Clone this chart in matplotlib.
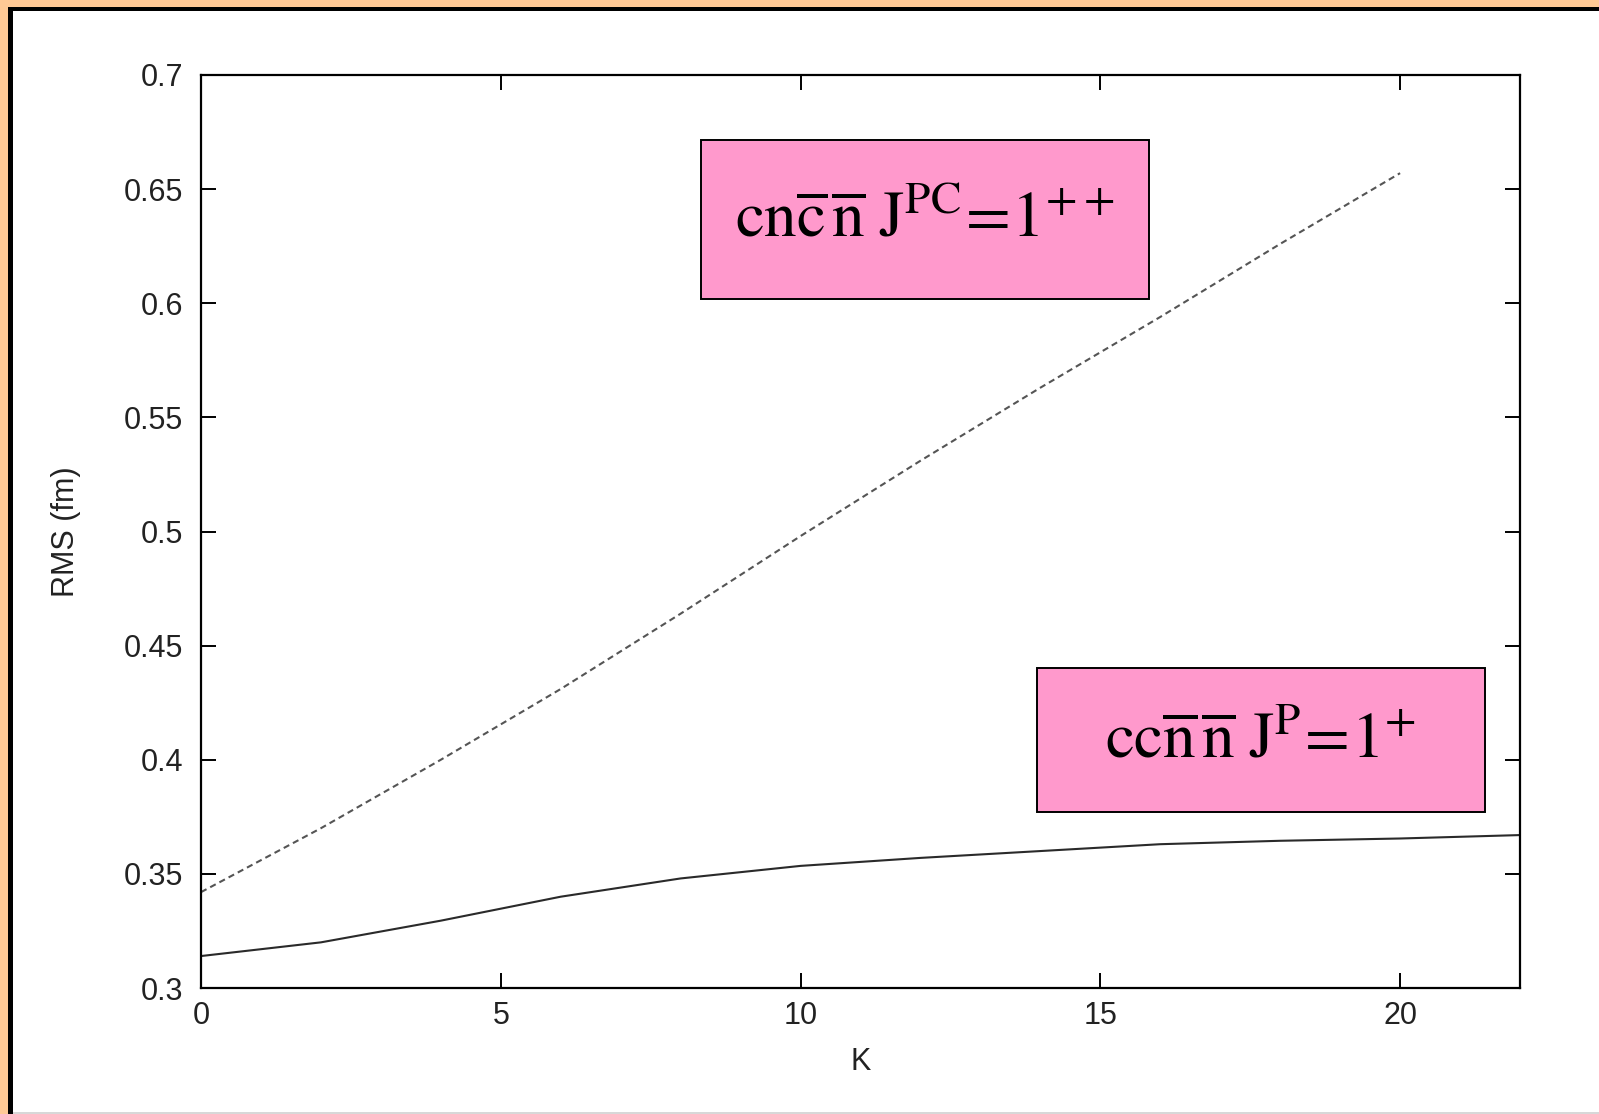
import matplotlib
matplotlib.use('Agg')
import matplotlib.pyplot as plt
from matplotlib.patches import Rectangle

# RMS radius vs K for the two tetraquark configurations
k_values = [0, 2, 4, 6, 8, 10, 12, 14, 16, 18, 20, 22]
rms_cncn = [0.342, 0.370, 0.400, 0.431, 0.464, 0.498, 0.531, 0.563, 0.594, 0.626, 0.657]
rms_ccnn = [0.314, 0.320, 0.3295, 0.340, 0.348, 0.3535, 0.357, 0.360, 0.363, 0.3645, 0.3655, 0.367]

x_ticks = [0, 5, 10, 15, 20]
y_ticks = [0.3, 0.35, 0.4, 0.45, 0.5, 0.55, 0.6, 0.65, 0.7]
y_tick_labels = ['0.3', '0.35', '0.4', '0.45', '0.5', '0.55', '0.6', '0.65', '0.7']

label_cncn = r'$\mathrm{cn\overline{c}\hspace{0.12}\overline{n}\ J^{PC}\!=\!1^{++}}$'
label_ccnn = r'$\mathrm{cc\overline{n}\hspace{0.12}\overline{n}\ J^{P}\!=\!1^{+}}$'

plt.rcParams['font.family'] = ['Liberation Sans', 'DejaVu Sans']
plt.rcParams['mathtext.fontset'] = 'stix'

fig = plt.figure(figsize=(15.99, 11.14), dpi=100)
fig.patch.set_facecolor('white')

# slide frame: orange strip with black rule on top and left edges
W, H = 1599.0, 1114.0
fig.patches.append(Rectangle((0, 0), 8 / W, 1, transform=fig.transFigure,
                             facecolor='#ffc995', edgecolor='none', zorder=0))
fig.patches.append(Rectangle((0, 1 - 7 / H), 1, 7 / H, transform=fig.transFigure,
                             facecolor='#ffc995', edgecolor='none', zorder=0))
fig.patches.append(Rectangle((8 / W, 0), 5 / W, 1 - 7 / H, transform=fig.transFigure,
                             facecolor='black', edgecolor='none', zorder=0))
fig.patches.append(Rectangle((8 / W, 1 - 11 / H), 1 - 8 / W, 4 / H, transform=fig.transFigure,
                             facecolor='black', edgecolor='none', zorder=0))
fig.patches.append(Rectangle((13 / W, 0), 1, 2 / H, transform=fig.transFigure,
                             facecolor='#d8d8d8', edgecolor='none', zorder=0))

ax = fig.add_axes([201 / W, 126 / H, 1319 / W, 913 / H])

ax.plot(k_values[:len(rms_cncn)], rms_cncn, color='#555555', lw=1.5,
        linestyle=(0, (3, 2)))
ax.plot(k_values, rms_ccnn, color='#2a2a2a', lw=1.5)

ax.set_xlim(0, 22)
ax.set_ylim(0.3, 0.7)
ax.set_xticks(x_ticks)
ax.set_yticks(y_ticks)
ax.set_yticklabels(y_tick_labels)
ax.tick_params(direction='in', length=11, width=1.4, top=True, right=True,
               labelsize=22, labelcolor='#222222')
ax.tick_params(axis='y', pad=13)
ax.tick_params(axis='x', pad=9)
for spine in ax.spines.values():
    spine.set_linewidth(1.6)

ax.set_xlabel('K', fontsize=22, color='#222222', labelpad=12)
ax.set_ylabel('RMS (fm)', fontsize=22, color='#222222', labelpad=31)

# labelled boxes
boxes = [((8.34, 0.602), 7.47, 0.0697, label_cncn),
         ((13.94, 0.377), 7.47, 0.063, label_ccnn)]
for (x0, y0), w, h, text in boxes:
    ax.add_patch(Rectangle((x0, y0), w, h, facecolor='#ff99cc', edgecolor='black',
                           lw=1.4, zorder=5))
    ax.text(x0 + w / 2, y0 + h / 2, text, fontsize=47, ha='center', va='center',
            zorder=6)

fig.savefig('out.png', dpi=100)
